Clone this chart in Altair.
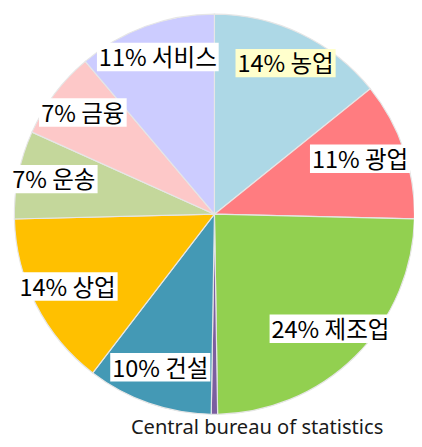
import altair as alt
import pandas as pd

# ---- data ----
categories = ["농업", "광업", "제조업", "기타", "건설", "상업", "운송", "금융", "서비스"]
values = [14, 11, 24, 0.5, 10, 14, 7, 7, 11]
colors = ["#ADD8E6", "#FF7C80", "#92D050", "#7B5EA0", "#4499B5",
          "#FFC000", "#C4D79B", "#FDC8C8", "#CCCCFF"]
source_note = "Central bureau of statistics"

# ---- layout constants ----
W, H = 414, 431
CX, CY, R = 210.5, 206, 204
RL = 168            # label radius
FS = 24             # label font size
PAD = 4
XMIN, XMAX = 2, 410
KFONT = "Noto Sans CJK KR"


def text_width(s, fs):
    w = 0.0
    for ch in s:
        if "\uac00" <= ch <= "\ud7a3":
            w += 0.92
        elif ch.isdigit():
            w += 0.53
        elif ch == "%":
            w += 0.8
        elif ch == " ":
            w += 0.22
        else:
            w += 0.6
    return w * fs


labels = [f"{v:g}% {c}" for c, v in zip(categories, values)]
df = pd.DataFrame({
    "idx": list(range(len(categories))),
    "category": categories,
    "value": values,
    "label": labels,
    "bw": [text_width(l, FS) + 2 * PAD for l in labels],
})

xs = alt.Scale(domain=[0, W], nice=False, zero=False)
ys = alt.Scale(domain=[H, 0], nice=False, zero=False)

arcs = alt.Chart(df).mark_arc(outerRadius=R, stroke="#e6e6e6", strokeWidth=1.2).encode(
    theta=alt.Theta("value:Q", stack=True),
    color=alt.Color("category:N", scale=alt.Scale(domain=categories, range=colors), legend=None),
    order=alt.Order("idx:Q"),
    x=alt.value(CX),
    y=alt.value(CY),
)

lab = (
    alt.Chart(df)
    .transform_window(cum="sum(value)", sort=[alt.SortField("idx")], frame=[None, 0])
    .transform_joinaggregate(total="sum(value)")
    .transform_filter(alt.datum.category != "기타")
    .transform_calculate(
        ang="2*PI*(datum.cum - datum.value/2)/datum.total",
        lx0=f"{CX} + {RL}*sin(datum.ang)",
        ly=f"{CY} - {RL}*cos(datum.ang)",
    )
    .transform_calculate(lx=f"clamp(datum.lx0, {XMIN} + datum.bw/2, {XMAX} - datum.bw/2)")
    .transform_calculate(
        bx1="datum.lx - datum.bw/2",
        bx2="datum.lx + datum.bw/2",
        by1="datum.ly - 17",
        by2="datum.ly + 12",
    )
)

boxes = lab.mark_rect().encode(
    x=alt.X("bx1:Q", scale=xs, axis=None),
    x2="bx2:Q",
    y=alt.Y("by1:Q", scale=ys, axis=None),
    y2="by2:Q",
    fill=alt.condition(alt.datum.category == "농업", alt.value("#FFFFCC"), alt.value("white")),
)

texts = lab.mark_text(font=KFONT, fontSize=FS, color="#000000", align="center",
                      baseline="middle").encode(
    x=alt.X("lx:Q", scale=xs, axis=None),
    y=alt.Y("ly:Q", scale=ys, axis=None),
    text="label:N",
)

caption = alt.Chart(pd.DataFrame({"t": [source_note]})).mark_text(
    font="Noto Sans", fontSize=20.5, color="#1a1a1a", align="center", baseline="alphabetic"
).encode(text="t:N", x=alt.value(254), y=alt.value(430))

chart = (
    alt.layer(arcs, boxes, texts, caption)
    .properties(width=W, height=H, padding=0, autosize=alt.AutoSizeParams(type="none"))
    .configure_view(stroke=None)
)

chart.save("out.html", embed_options={"renderer": "svg", "actions": False})
